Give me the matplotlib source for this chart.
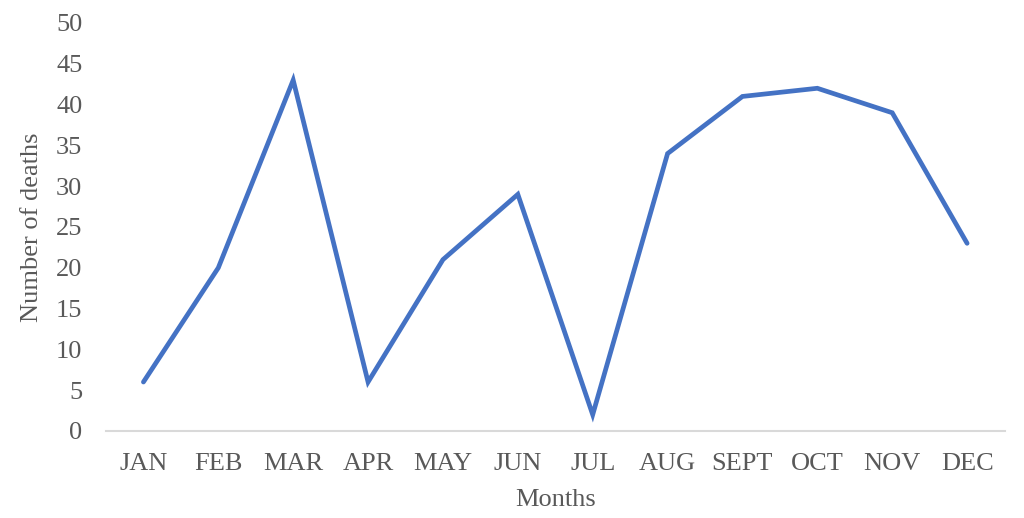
import matplotlib
matplotlib.use("Agg")
import matplotlib.pyplot as plt

months = ["JAN", "FEB", "MAR", "APR", "MAY", "JUN", "JUL", "AUG", "SEPT", "OCT", "NOV", "DEC"]
deaths = [6, 20, 43, 6, 21, 29, 2, 34, 41, 42, 39, 23]
yticks = [0, 5, 10, 15, 20, 25, 30, 35, 40, 45, 50]

text_col = "#595959"
plt.rcParams["font.family"] = ["Liberation Serif", "DejaVu Serif"]

fig = plt.figure(figsize=(10.24, 5.18), dpi=100)
ax = fig.add_axes([0.1035, 0.168, 0.8775, 0.7876])

x = list(range(len(months)))
ax.plot(x, deaths, color="#4472C4", linewidth=3.4, solid_joinstyle="miter", solid_capstyle="round")

ax.set_xlim(-0.5, len(months) - 0.5)
ax.set_ylim(0, 50)
ax.set_yticks(yticks)
ax.set_xticks(x)
ax.set_xticklabels(months)

for s in ["top", "right", "left"]:
    ax.spines[s].set_visible(False)
ax.spines["bottom"].set_color("#d9d9d9")
ax.spines["bottom"].set_linewidth(1.5)

ax.tick_params(axis="both", length=0, labelsize=19, labelcolor=text_col)
ax.tick_params(axis="y", pad=17)
ax.tick_params(axis="x", pad=16)

ax.set_xlabel("Months", fontsize=19, color=text_col, labelpad=10)
ax.set_ylabel("Number of deaths", fontsize=19, color=text_col, labelpad=9)

fig.savefig("out.png", dpi=100)
